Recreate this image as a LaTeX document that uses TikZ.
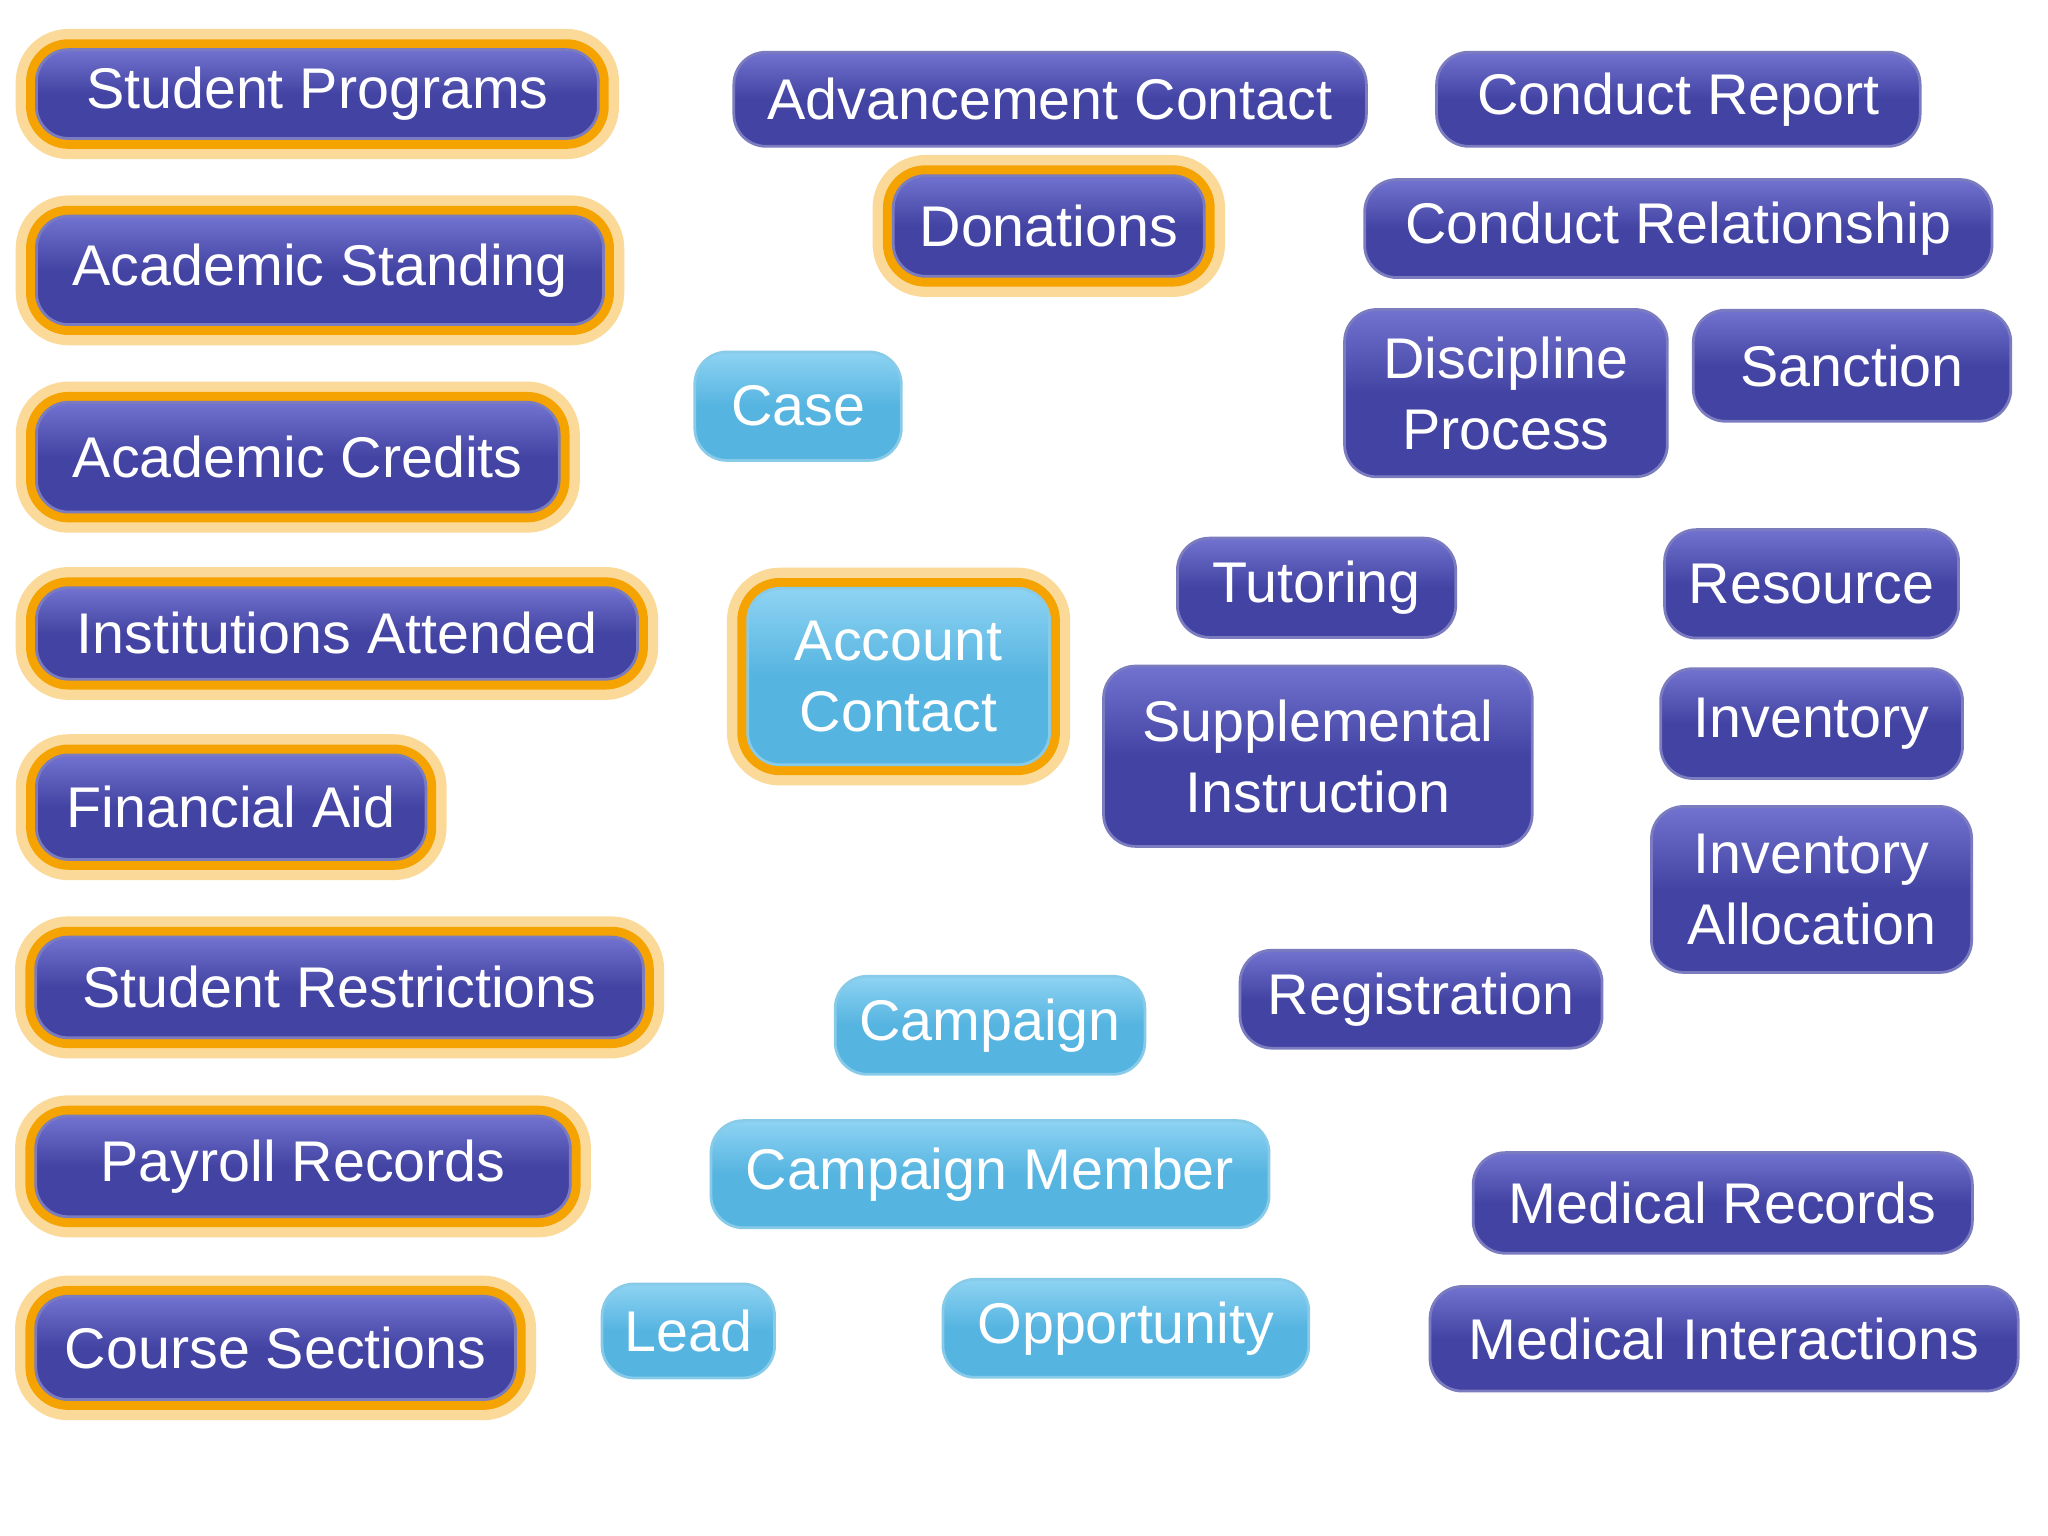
\documentclass[tikz,border=0pt]{standalone}
\usepackage{fontspec}
\setmainfont{Liberation Sans}
\usetikzlibrary{calc,backgrounds}
\definecolor{dk}{HTML}{4343A3}
\definecolor{dkt}{HTML}{7272D0}
\definecolor{lb}{HTML}{55B4E0}
\definecolor{lbt}{HTML}{8ED3F3}
\definecolor{ln}{HTML}{C0500F}
\definecolor{gl}{HTML}{F5A300}
\tikzset{
 box/.style={rounded corners=7pt, top color=dkt, bottom color=dk, middle color=dk, draw=dk!70!white, line width=0.6pt, text=white, align=center, font=\fontsize{12.5}{15.5}\selectfont, inner sep=0pt},
 lbox/.style={box, top color=lbt, bottom color=lb, middle color=lb, draw=lb!70!white},
 glow/.style={preaction={draw=gl!40, line width=9pt}, preaction={draw=gl, line width=4.5pt}},
 link/.style={draw=ln, line width=1.1pt},
}
\begin{document}
\begin{tikzpicture}[x=0.01cm,y=-0.01cm]
\useasboundingbox[fill=white] (0,0) rectangle (1568,1176);
\newcommand\bx[6]{\node[#1, minimum width=#4*0.01cm, minimum height=#5*0.01cm] (#6) at (#2,#3) {};}
% left column
\node[box,glow,minimum width=4.3cm,minimum height=0.68cm] (sp) at (243,72) {Student Programs};
\node[box,glow,minimum width=4.34cm,minimum height=0.83cm] (as) at (245,207) {Academic Standing};
\node[box,glow,minimum width=4.0cm,minimum height=0.84cm] (acr) at (228,350) {Academic Credits};
\node[box,glow,minimum width=4.6cm,minimum height=0.70cm] (ia) at (258,485) {Institutions Attended};
\node[box,glow,minimum width=2.98cm,minimum height=0.80cm] (fa) at (177,618) {Financial Aid};
\node[box,glow,minimum width=4.65cm,minimum height=0.77cm] (sr) at (260,756) {Student Restrictions};
\node[box,glow,minimum width=4.09cm,minimum height=0.77cm] (pr) at (232,893) {Payroll Records};
\node[box,glow,minimum width=3.67cm,minimum height=0.79cm] (cs) at (211,1032) {Course Sections};
% top middle
\node[box,minimum width=4.84cm,minimum height=0.72cm] (adv) at (804,76) {Advancement Contact};
\node[box,glow,minimum width=2.38cm,minimum height=0.77cm] (don) at (803,173) {Donations};
\node[box,minimum width=3.7cm,minimum height=0.72cm] (cr) at (1285,76) {Conduct Report};
\node[box,minimum width=4.8cm,minimum height=0.75cm] (crel) at (1285,175) {Conduct Relationship};
\node[box,minimum width=2.47cm,minimum height=1.28cm] (dp) at (1153,301) {Discipline\\Process};
\node[box,minimum width=2.43cm,minimum height=0.85cm] (san) at (1418,280) {Sanction};
\node[lbox,minimum width=1.58cm,minimum height=0.83cm] (case) at (611,311) {Case};
\node[lbox,glow,minimum width=2.31cm,minimum height=1.35cm] (ac) at (688,518) {Account\\Contact};
\node[box,minimum width=2.13cm,minimum height=0.76cm] (tut) at (1008,450) {Tutoring};
\node[box,minimum width=3.28cm,minimum height=1.38cm] (si) at (1009,579) {Supplemental\\Instruction};
\node[box,minimum width=2.25cm,minimum height=0.83cm] (res) at (1387,447) {Resource};
\node[box,minimum width=2.31cm,minimum height=0.84cm] (inv) at (1387,554) {Inventory};
\node[box,minimum width=2.45cm,minimum height=1.27cm] (ial) at (1387,681) {Inventory\\Allocation};
\node[box,minimum width=2.77cm,minimum height=0.75cm] (reg) at (1088,765) {Registration};
\node[lbox,minimum width=2.37cm,minimum height=0.75cm] (camp) at (758,785) {Campaign};
\node[lbox,minimum width=4.27cm,minimum height=0.82cm] (cm) at (758,899) {Campaign Member};
\node[lbox,minimum width=1.32cm,minimum height=0.72cm] (lead) at (527,1019) {Lead};
\node[lbox,minimum width=2.8cm,minimum height=0.75cm] (opp) at (862,1017) {Opportunity};
\node[box,minimum width=3.82cm,minimum height=0.77cm] (mr) at (1319,921) {Medical Records};
\node[box,minimum width=4.5cm,minimum height=0.8cm] (mi) at (1320,1025) {Medical Interactions};
\begin{scope}[on background layer]
\draw[link] ($(ac)+(-123,0)$) -- ($(sp)+(217,18)$);
\draw[link] ($(ac)+(-123,0)$) -- ($(as)+(220,8)$);
\draw[link] ($(ac)+(-123,0)$) -- ($(acr)+(207,10)$);
\draw[link] ($(ac)+(-123,0)$) -- ($(ia)+(237,5)$);
\draw[link] ($(ac)+(-123,4)$) -- ($(fa)+(158,-6)$);
\draw[link] ($(ac)+(-123,12)$) -- ($(sr)+(120,-51)$);
\draw[link] ($(ac)+(-123,15)$) -- ($(sr)+(170,-51)$);
\draw[link] ($(ac)+(-123,15)$) -- ($(sr)+(245,-31)$);
\draw[link] (case.south) -- ($(ac)+(-8,-76)$);
\draw[link] ($(don)+(-38,47)$) -- ($(ac)+(2,-76)$);
\draw[link] ($(don)+(-3,47)$) -- ($(ac)+(7,-76)$);
\draw[link] ($(adv)+(-1,36)$) -- ($(don)+(-3,-38)$);
\draw[link] (crel.west) -- ($(ac)+(122,-8)$);
\draw[link] (tut.west) -- ($(ac)+(124,-13)$);
\draw[link] ($(si)+(-166,-57)$) -- ($(ac)+(124,2)$);
\draw[link] ($(si)+(-166,1)$) -- ($(ac)+(124,17)$);
\draw[link] (cr.south) -- (crel.north);
\draw[link] ($(crel)+(-5,37)$) -- ($(dp)+(2,-66)$);
\draw[link] ($(crel)+(-5,37)$) -- (san.north);
\draw[link] (res.south) -- (inv.north);
\draw[link] (inv.south) -- (ial.north);
\draw[link] ($(si)+(156,69)$) -- ($(ial)+(-124,1)$);
\draw[link] ($(ac)+(2,77)$) -- ($(camp)+(-28,-39)$);
\draw[link] ($(ac)+(2,77)$) -- ($(camp)+(2,-39)$);
\draw[link] ($(camp)+(-3,38)$) -- ($(cm)+(2,-42)$);
\draw[link] ($(camp)+(35,38)$) -- ($(cm)+(50,-42)$);
\draw[link] ($(cm)+(0,43)$) -- ($(lead)+(0,-39)$);
\draw[link] ($(cm)+(87,43)$) -- ($(opp)+(0,-39)$);
\draw[link] (opp.east) -- (reg.south);
\draw[link] (reg.south) -- (mr.north);
\draw[link] (mr.south) -- (mi.north);
\draw[link] ($(sr)+(25,47)$) -- ($(pr)+(8,-50)$);
\draw[link] ($(sr)+(95,47)$) -- ($(pr)+(90,-50)$);
\draw[link] ($(pr)+(16,47)$) -- ($(cs)+(7,-49)$);
\end{scope}
\end{tikzpicture}
\end{document}
